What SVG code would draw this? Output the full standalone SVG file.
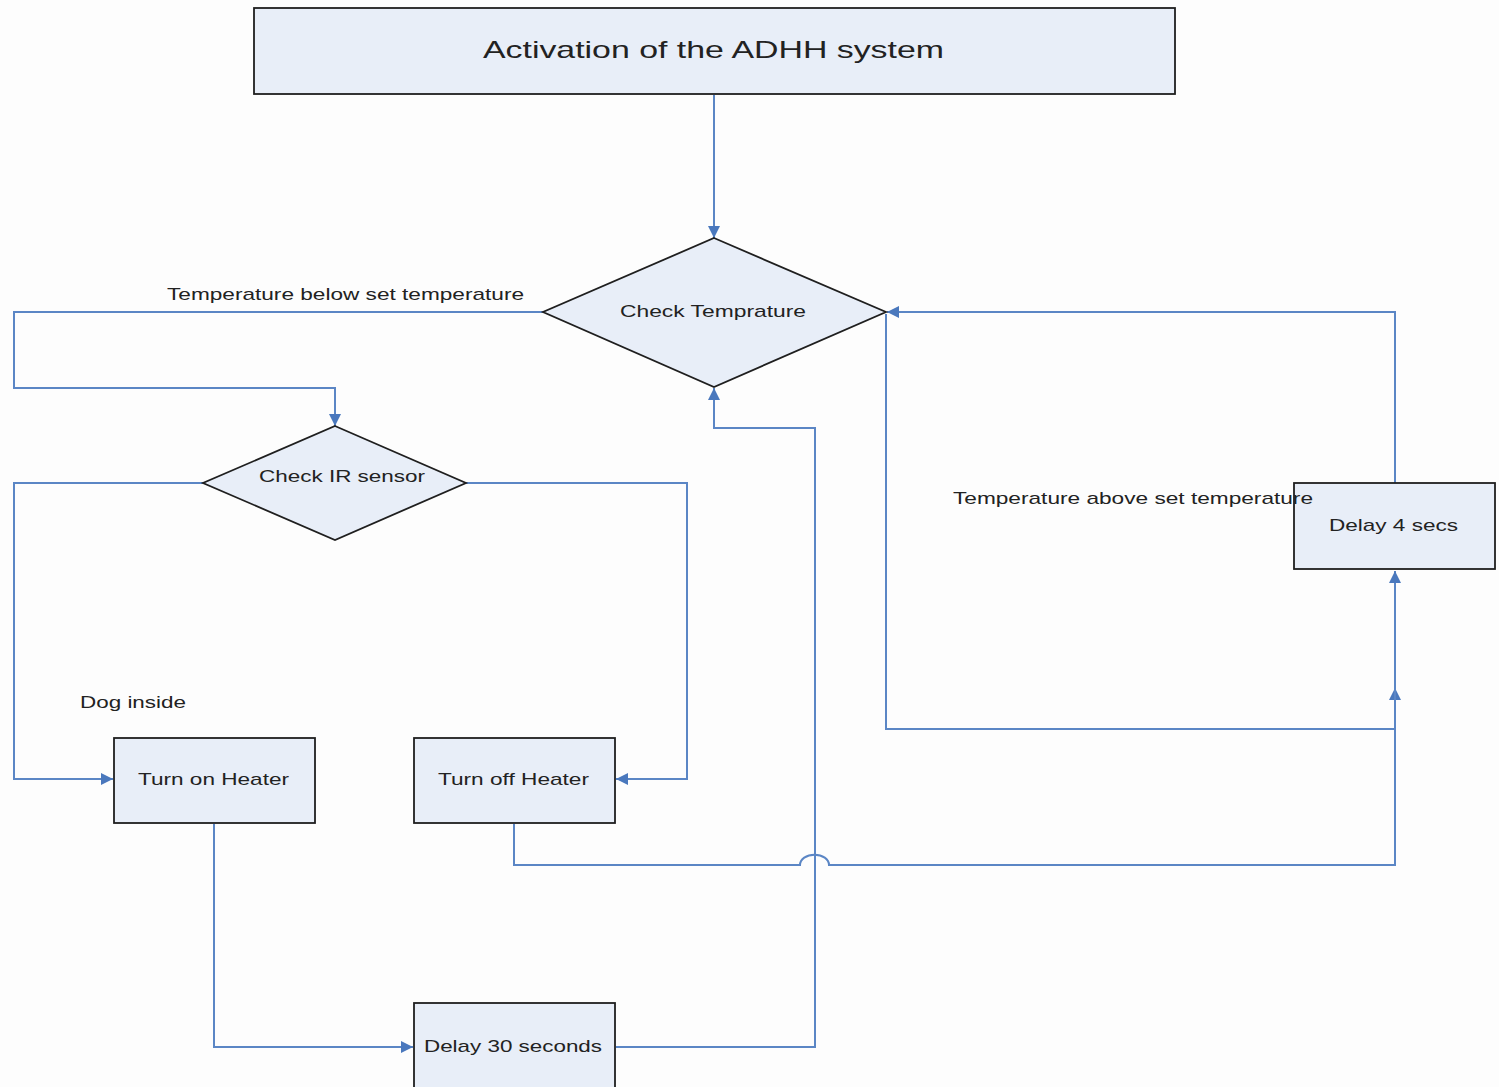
<svg xmlns="http://www.w3.org/2000/svg" width="1499" height="1087" viewBox="0 0 1499 1087">
<style>
.box{fill:#e8eef8;stroke:#1f1f1f;stroke-width:1.8}
.c{fill:none;stroke:#5b86c5;stroke-width:2}
.t{font-family:"Liberation Sans",Arial,sans-serif;font-size:17px;fill:#222}
.big{font-size:24px}
</style>
<defs>
<marker id="a" viewBox="0 0 10 10" refX="10" refY="5" markerWidth="13" markerHeight="12" markerUnits="userSpaceOnUse" orient="auto">
<path d="M0,0 L10,5 L0,10 z" fill="#4a78bd"/>
</marker>
</defs>
<rect width="1499" height="1087" fill="#fdfdfd"/>
<g id="connectors">
<path class="c" d="M714,95 V238" marker-end="url(#a)"/>
<path class="c" d="M543,312 H14 V388 H335 V426" marker-end="url(#a)"/>
<path class="c" d="M203,483 H14 V779 H113" marker-end="url(#a)"/>
<path class="c" d="M466,483 H687 V779 H616" marker-end="url(#a)"/>
<path class="c" d="M214,824 V1047 H413" marker-end="url(#a)"/>
<path class="c" d="M616,1047 H815 V428 H714 V388" marker-end="url(#a)"/>
<path class="c" d="M514,824 V865 H800 A14,10 0 0 1 829,865 H1395 V688" marker-end="url(#a)"/>
<path class="c" d="M886,314 V729 H1395 V571" marker-end="url(#a)"/>
<path class="c" d="M1395,483 V312 H887" marker-end="url(#a)"/>
</g>
<g id="n-activation">
<rect class="box" x="254" y="8" width="921" height="86"/>
<text class="t big" x="483" y="58" textLength="461" lengthAdjust="spacingAndGlyphs">Activation of the ADHH system</text>
</g>
<g id="n-checktemp">
<polygon class="box" points="714,238 886,312 714,387 543,312"/>
<text class="t" x="620" y="317" textLength="186" lengthAdjust="spacingAndGlyphs">Check Temprature</text>
</g>
<g id="n-checkir">
<polygon class="box" points="335,426 466,483 335,540 203,483"/>
<text class="t" x="259" y="482" textLength="166" lengthAdjust="spacingAndGlyphs">Check IR sensor</text>
</g>
<g id="n-turnon">
<rect class="box" x="114" y="738" width="201" height="85"/>
<text class="t" x="138" y="785" textLength="151" lengthAdjust="spacingAndGlyphs">Turn on Heater</text>
</g>
<g id="n-turnoff">
<rect class="box" x="414" y="738" width="201" height="85"/>
<text class="t" x="438" y="785" textLength="151" lengthAdjust="spacingAndGlyphs">Turn off Heater</text>
</g>
<g id="n-delay30">
<rect class="box" x="414" y="1003" width="201" height="90"/>
<text class="t" x="424" y="1052" textLength="178" lengthAdjust="spacingAndGlyphs">Delay 30 seconds</text>
</g>
<g id="n-delay4">
<rect class="box" x="1294" y="483" width="201" height="86"/>
<text class="t" x="1329" y="531" textLength="129" lengthAdjust="spacingAndGlyphs">Delay 4 secs</text>
</g>
<g id="labels">
<text class="t" x="167" y="300" textLength="357" lengthAdjust="spacingAndGlyphs">Temperature below set temperature</text>
<text class="t" x="953" y="504" textLength="360" lengthAdjust="spacingAndGlyphs">Temperature above set temperature</text>
<text class="t" x="80" y="708" textLength="106" lengthAdjust="spacingAndGlyphs">Dog inside</text>
</g>
</svg>
